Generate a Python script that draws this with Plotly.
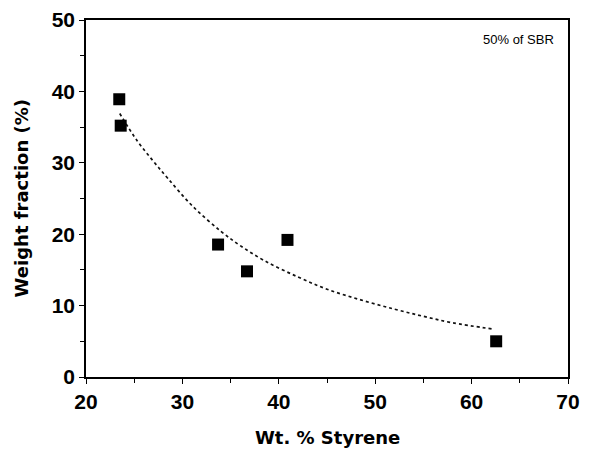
import plotly.graph_objects as go

# Measured data points
styrene = [23.45, 23.6, 33.7, 36.7, 40.9, 62.55]
weight_fraction = [38.9, 35.2, 18.55, 14.8, 19.2, 5.0]

# Fitted (dotted) curve
fit_x = [23.5, 25.3, 27.0, 28.5, 31.0, 34.0, 36.0, 38.5, 42.0, 45.0, 48.5, 52.0, 55.0, 58.0, 62.3]
fit_y = [36.9, 33.1, 30.2, 27.8, 24.0, 20.4, 18.4, 16.3, 14.0, 12.3, 10.8, 9.5, 8.5, 7.6, 6.7]

x_ticks = [20, 30, 40, 50, 60, 70]
y_ticks = [0, 10, 20, 30, 40, 50]

fig = go.Figure()
fig.add_trace(go.Scatter(
    x=fit_x, y=fit_y, mode="lines",
    line=dict(color="#111", width=1.7, dash="dot", shape="spline"),
    showlegend=False, hoverinfo="skip"))
fig.add_trace(go.Scatter(
    x=styrene, y=weight_fraction, mode="markers",
    marker=dict(symbol="square", size=12, color="black"),
    showlegend=False))

font_family = "Liberation Sans, Arial, sans-serif"
title_family = "DejaVu Sans, Liberation Sans, sans-serif"
axis_common = dict(
    showline=True, linecolor="black", linewidth=1.5, mirror=True,
    ticks="outside", ticklen=5, tickwidth=1.2, tickcolor="black",
    showgrid=False, zeroline=False, automargin=False,
    tickfont=dict(family=font_family, size=21, color="black", weight="bold"),
    minor=dict(ticks="outside", ticklen=4, tickwidth=1, tickcolor="black", dtick=5),
)
fig.update_xaxes(range=[20, 70], tickvals=x_ticks, **axis_common)
fig.update_yaxes(range=[0, 50], tickvals=y_ticks, **axis_common)

fig.add_annotation(text="Wt. % Styrene", xref="paper", yref="paper",
                   x=0.5, y=-0.17, xanchor="center", yanchor="middle",
                   showarrow=False,
                   font=dict(family=title_family, size=18, color="black", weight="bold"))
fig.add_annotation(text="Weight fraction (%)", xref="paper", yref="paper",
                   x=-0.133, y=0.5, xanchor="center", yanchor="middle",
                   textangle=-90, showarrow=False,
                   font=dict(family=title_family, size=18, color="black", weight="bold"))

fig.add_annotation(text="50% of SBR", xref="paper", yref="paper",
                   x=0.975, y=0.945, xanchor="right", yanchor="middle",
                   showarrow=False,
                   font=dict(family=font_family, size=13, color="black"))

fig.update_layout(
    width=613, height=449,
    margin=dict(l=86, r=45, t=20, b=72),
    paper_bgcolor="white", plot_bgcolor="white",
)

fig.write_html("out.html")
